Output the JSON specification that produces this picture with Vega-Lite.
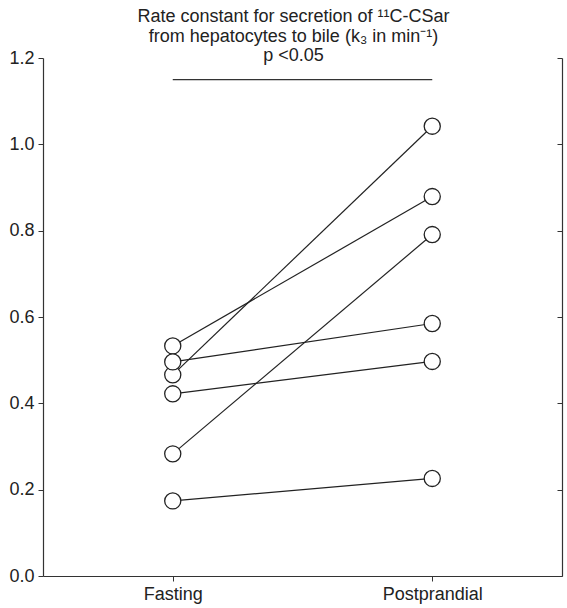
{
  "$schema": "https://vega.github.io/schema/vega-lite/v6.json",
  "autosize": "none",
  "padding": {"left": 43, "top": 58, "right": 5, "bottom": 32},
  "width": 519,
  "height": 518,
  "title": {
    "text": ["Rate constant for secretion of ¹¹C-CSar", "from hepatocytes to bile (k₃ in min⁻¹)", "p <0.05"],
    "font": "Liberation Sans",
    "fontSize": 18,
    "fontWeight": "normal",
    "color": "#222",
    "lineHeight": 19.5,
    "anchor": "middle",
    "dx": -9,
    "offset": -16
  },
  "config": {
    "view": {"stroke": null},
    "axis": {
      "labelFont": "Liberation Sans",
      "labelFontSize": 18,
      "labelColor": "#222",
      "domainColor": "#333",
      "tickColor": "#333",
      "grid": false,
      "title": null
    }
  },
  "datasets": {
    "pts": [
      {"subject": "A", "phase": "Fasting", "value": 0.533},
      {"subject": "A", "phase": "Postprandial", "value": 0.879},
      {"subject": "B", "phase": "Fasting", "value": 0.466},
      {"subject": "B", "phase": "Postprandial", "value": 1.042},
      {"subject": "C", "phase": "Fasting", "value": 0.496},
      {"subject": "C", "phase": "Postprandial", "value": 0.585},
      {"subject": "D", "phase": "Fasting", "value": 0.422},
      {"subject": "D", "phase": "Postprandial", "value": 0.497},
      {"subject": "E", "phase": "Fasting", "value": 0.283},
      {"subject": "E", "phase": "Postprandial", "value": 0.791},
      {"subject": "F", "phase": "Fasting", "value": 0.174},
      {"subject": "F", "phase": "Postprandial", "value": 0.226}
    ],
    "sig": [
      {"phase": "Fasting", "value": 1.15},
      {"phase": "Postprandial", "value": 1.15}
    ]
  },
  "resolve": {"axis": {"y": "independent"}},
  "layer": [
    {
      "data": {"name": "sig"},
      "mark": {"type": "line", "color": "#333", "strokeWidth": 1.2},
      "encoding": {
        "x": {"field": "phase", "type": "nominal", "scale": {"type": "point", "padding": 0.5},
              "axis": {"labelAngle": 0, "tickSize": 5, "labelPadding": 4, "domainWidth": 1.2}},
        "y": {"field": "value", "type": "quantitative", "scale": {"domain": [0, 1.2]},
              "axis": {"orient": "right", "values": [0, 0.2, 0.4, 0.6, 0.8, 1.0, 1.2], "labels": false, "tickSize": -5, "domainWidth": 1.2}}
      }
    },
    {
      "data": {"name": "pts"},
      "mark": {"type": "line", "color": "#222", "strokeWidth": 1.2},
      "encoding": {
        "x": {"field": "phase", "type": "nominal"},
        "y": {"field": "value", "type": "quantitative",
              "axis": {"orient": "left", "values": [0, 0.2, 0.4, 0.6, 0.8, 1.0, 1.2], "format": ".1f", "tickSize": 5, "labelPadding": 4, "domainWidth": 1.2}},
        "detail": {"field": "subject"}
      }
    },
    {
      "data": {"name": "pts"},
      "mark": {"type": "point", "shape": "circle", "filled": true, "fill": "white", "stroke": "#222", "strokeWidth": 1.3, "size": 260, "opacity": 1},
      "encoding": {
        "x": {"field": "phase", "type": "nominal"},
        "y": {"field": "value", "type": "quantitative", "axis": null}
      }
    }
  ]
}
